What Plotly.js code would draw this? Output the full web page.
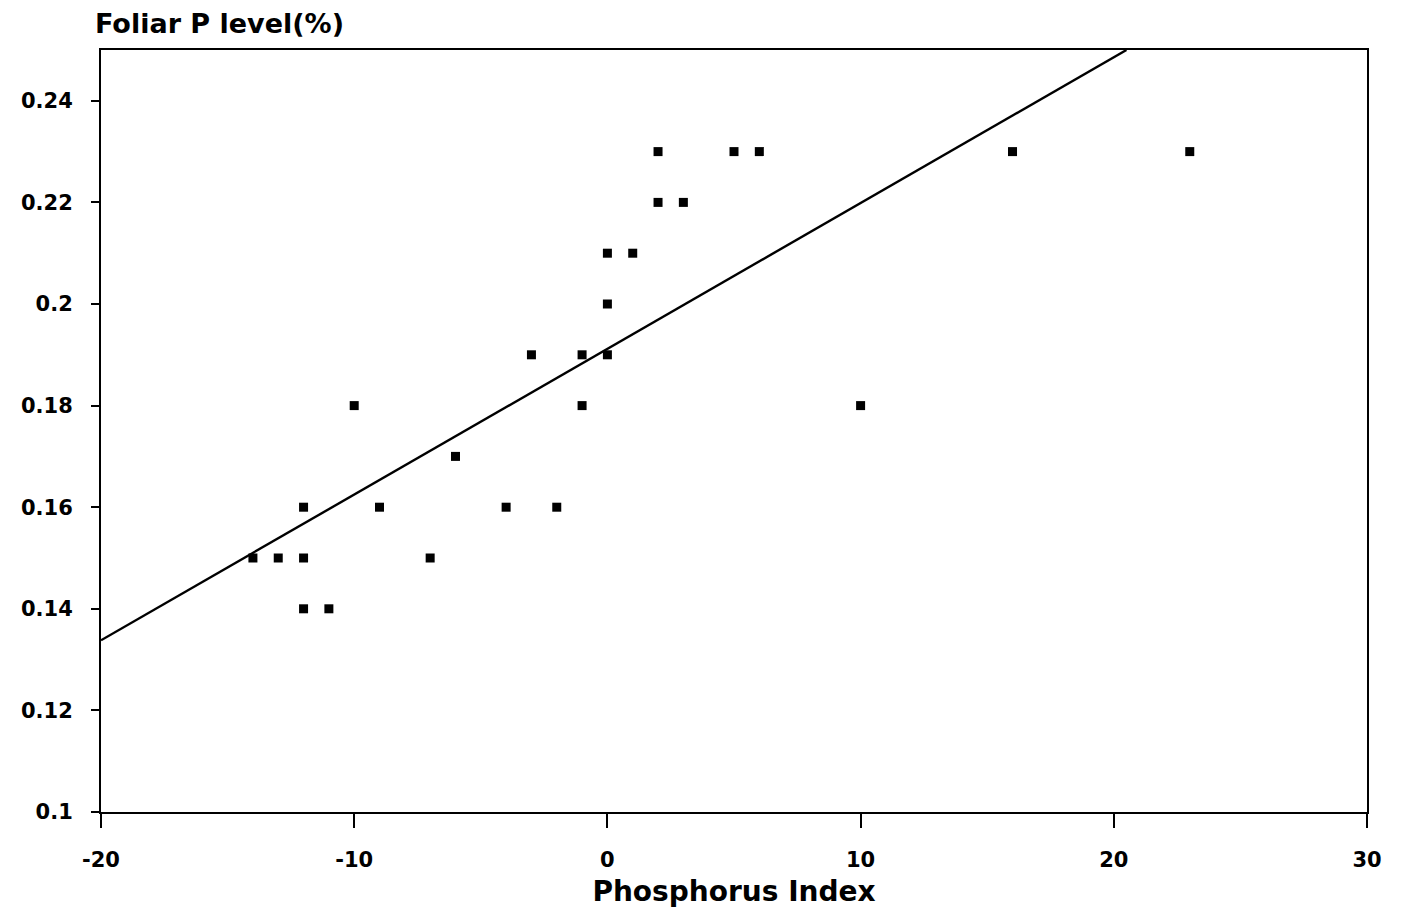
<!DOCTYPE html>
<html>
<head>
<meta charset="utf-8">
<script src="https://cdn.plot.ly/plotly-3.0.1.min.js"></script>
<style>html,body{margin:0;padding:0;background:#fff;}#chart{width:1401px;height:911px;}</style>
</head>
<body>
<div id="chart"></div>
<script>
// Phosphorus index vs foliar P level
const phosphorusIndex = [-14, -13, -12, -12, -12, -11, -10, -9, -7, -6, -4, -3, -2, -1, -1, 0, 0, 0, 1, 2, 2, 3, 5, 6, 10, 16, 23];
const foliarP =         [0.15, 0.15, 0.15, 0.16, 0.14, 0.14, 0.18, 0.16, 0.15, 0.17, 0.16, 0.19, 0.16, 0.19, 0.18, 0.20, 0.21, 0.19, 0.21, 0.23, 0.22, 0.22, 0.23, 0.23, 0.18, 0.23, 0.23];
// regression line endpoints
const fitX = [-20, 20.5];
const fitY = [0.1338, 0.25];
const xTicks = [-20, -10, 0, 10, 20, 30];
const xTickLabels = ['-20', '-10', '0', '10', '20', '30'];
const yTicks = [0.1, 0.12, 0.14, 0.16, 0.18, 0.2, 0.22, 0.24];
const yTickLabels = ['0.1', '0.12', '0.14', '0.16', '0.18', '0.2', '0.22', '0.24'];

const fam = 'DejaVu Sans, Liberation Sans, Arial, sans-serif';

const traces = [
  {x: fitX, y: fitY, mode: 'lines', type: 'scatter', line: {color: '#000', width: 2.4}, hoverinfo: 'skip'},
  {x: phosphorusIndex, y: foliarP, mode: 'markers', type: 'scatter',
   marker: {symbol: 'square', size: 9, color: '#000'}}
];

const layout = {
  width: 1401, height: 911,
  margin: {l: 101, r: 34, t: 50, b: 99},
  showlegend: false,
  paper_bgcolor: '#fff', plot_bgcolor: '#fff',
  font: {family: fam, color: '#000'},
  xaxis: {
    range: [-20, 30], tickvals: xTicks, ticktext: xTickLabels,
    ticks: 'outside', ticklen: 14, tickwidth: 2, tickcolor: '#000',
    ticklabelstandoff: 14,
    showline: true, linecolor: '#000', linewidth: 2, mirror: true,
    showgrid: false, zeroline: false,
    tickfont: {family: fam, size: 21, color: '#000', weight: 'bold'},
    title: {text: 'Phosphorus Index', font: {family: fam, size: 28, color: '#000', weight: 'bold'}, standoff: 10}
  },
  yaxis: {
    range: [0.1, 0.25], tickvals: yTicks, ticktext: yTickLabels,
    ticks: 'outside', ticklen: 8, tickwidth: 2, tickcolor: '#000',
    ticklabelstandoff: 14,
    showline: true, linecolor: '#000', linewidth: 2, mirror: true,
    showgrid: false, zeroline: false,
    tickfont: {family: fam, size: 21, color: '#000', weight: 'bold'}
  },
  annotations: [
    {text: 'Foliar P level(%)', xref: 'paper', yref: 'paper', x: 0, y: 1, xanchor: 'left', yanchor: 'bottom',
     xshift: -8, yshift: 9, showarrow: false, font: {family: fam, size: 27, color: '#000', weight: 'bold'}}
  ]
};

Plotly.newPlot('chart', traces, layout, {displayModeBar: false, staticPlot: true});
</script>
</body>
</html>
